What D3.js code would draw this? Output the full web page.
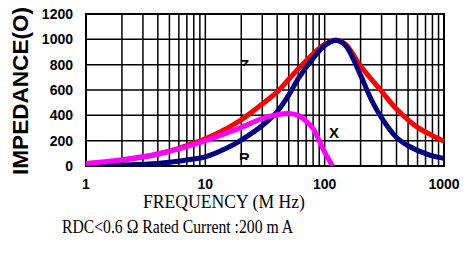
<!DOCTYPE html>
<html>
<head>
<meta charset="utf-8">
<script src="https://cdn.jsdelivr.net/npm/d3@7"></script>
<style>
  body { margin: 0; background: #fff; }
  svg { display: block; }
</style>
</head>
<body>
<div id="chart"></div>
<script>
// frequency (MHz) and impedance (ohm)
var zFreq = [1, 1.5, 2, 3, 4, 6, 8, 10, 15, 20, 30, 40, 50, 60, 80, 100, 125, 150, 200, 300, 400, 600, 800, 1000];
var zVals = [20, 30, 45, 70, 95, 140, 180, 215, 295, 365, 490, 585, 685, 765, 885, 960, 995, 960, 790, 590, 450, 305, 240, 195];

var xFreq = [1, 2, 4, 6, 8, 10, 15, 20, 30, 40, 50, 60, 80, 100, 125, 150, 200, 250, 300, 400, 500, 650, 800, 1000];
var xVals = [3, 8, 20, 38, 55, 72, 140, 205, 320, 430, 560, 690, 850, 950, 990, 950, 715, 510, 380, 225, 160, 110, 80, 60];

var rFreq = [1, 2, 4, 6, 8, 10, 15, 20, 30, 40, 50, 60, 70, 80, 90, 100, 110, 116];
var rVals = [20, 50, 95, 135, 170, 200, 260, 305, 375, 405, 415, 400, 355, 295, 200, 110, 40, 0];

var yTicks = [0, 200, 400, 600, 800, 1000, 1200];
var xTicks = [1, 10, 100, 1000];

var W = 465, H = 257;
var plotL = 86, plotR = 444, plotT = 14, plotB = 166;

var svg = d3.select("#chart").append("svg")
    .attr("width", W).attr("height", H);

var x = d3.scaleLog().domain([1, 1000]).range([plotL, plotR]);
var y = d3.scaleLinear().domain([0, 1200]).range([plotB, plotT]);

// vertical grid: every 1..9 in each decade
var vGrid = [];
[1, 10, 100].forEach(function(d) {
    for (var k = 1; k < 10; k++) vGrid.push(d * k);
});
vGrid.push(1000);

svg.append("g").selectAll("line").data(vGrid).enter().append("line")
    .attr("x1", function(d) { return x(d); }).attr("x2", function(d) { return x(d); })
    .attr("y1", plotT).attr("y2", plotB)
    .attr("stroke", "#000").attr("stroke-width", 1.5);

svg.append("g").selectAll("line").data(yTicks).enter().append("line")
    .attr("x1", plotL).attr("x2", plotR)
    .attr("y1", function(d) { return y(d); }).attr("y2", function(d) { return y(d); })
    .attr("stroke", "#000").attr("stroke-width", 1.5);

svg.append("rect")
    .attr("x", plotL).attr("y", plotT)
    .attr("width", plotR - plotL).attr("height", plotB - plotT)
    .attr("fill", "none").attr("stroke", "#000").attr("stroke-width", 2);

// tick labels
svg.append("g").selectAll("text").data(yTicks).enter().append("text")
    .attr("x", 73).attr("y", function(d) { return y(d); })
    .attr("dy", "0.36em")
    .attr("text-anchor", "end")
    .style("font-family", "'Liberation Sans', Arial, sans-serif")
    .style("font-weight", "bold").style("font-size", "14px")
    .text(function(d) { return d; });

svg.append("g").selectAll("text").data(xTicks).enter().append("text")
    .attr("x", function(d) { return x(d); }).attr("y", 189)
    .attr("text-anchor", "middle")
    .style("font-family", "'Liberation Sans', Arial, sans-serif")
    .style("font-weight", "bold").style("font-size", "14px")
    .text(function(d) { return d; });

// curves
svg.append("clipPath").attr("id", "plotClip").append("rect")
    .attr("x", plotL).attr("y", plotT).attr("width", plotR - plotL).attr("height", plotB - plotT);

var line = d3.line()
    .x(function(d) { return x(d[0]); })
    .y(function(d) { return y(d[1]); })
    .curve(d3.curveCatmullRom.alpha(0.5));

function series(freq, vals) {
    return freq.map(function(f, i) { return [f, vals[i]]; });
}

var curves = [
    { data: series(zFreq, zVals), color: "#ff0000" },
    { data: series(xFreq, xVals), color: "#000080" },
    { data: series(rFreq, rVals), color: "#ff00ff" }
];

svg.append("g").attr("clip-path", "url(#plotClip)")
    .selectAll("path").data(curves).enter().append("path")
    .attr("d", function(d) { return line(d.data); })
    .attr("fill", "none")
    .attr("stroke", function(d) { return d.color; })
    .attr("stroke-width", 5)
    .attr("stroke-linejoin", "round");

// curve labels (partly hidden in the original)
var labClip = svg.append("clipPath").attr("id", "labClip");
labClip.append("rect").attr("x", 230).attr("y", 50).attr("width", 30).attr("height", 16);
labClip.append("rect").attr("x", 230).attr("y", 145).attr("width", 30).attr("height", 15);

var labs = svg.append("g")
    .style("font-family", "'Liberation Sans', Arial, sans-serif")
    .style("font-weight", "bold").style("font-size", "15px");
labs.append("text").attr("x", 240).attr("y", 70).attr("clip-path", "url(#labClip)").text("Z");
labs.append("text").attr("x", 239).attr("y", 163).attr("clip-path", "url(#labClip)").text("R");
labs.append("text").attr("x", 329).attr("y", 138).text("X");

// axis titles
svg.append("text")
    .attr("transform", "translate(28,91) rotate(-90)")
    .attr("text-anchor", "middle")
    .attr("textLength", 168).attr("lengthAdjust", "spacingAndGlyphs")
    .style("font-family", "'Liberation Sans', Arial, sans-serif")
    .style("font-weight", "bold").style("font-size", "22px")
    .text("IMPEDANCE(O)");

svg.append("text")
    .attr("x", 143).attr("y", 208)
    .attr("textLength", 162).attr("lengthAdjust", "spacingAndGlyphs")
    .style("font-family", "'Liberation Serif', 'Times New Roman', serif")
    .style("font-size", "18px")
    .text("FREQUENCY (M Hz)");

svg.append("text")
    .attr("x", 62).attr("y", 233)
    .attr("textLength", 231).attr("lengthAdjust", "spacingAndGlyphs")
    .style("font-family", "'Liberation Serif', 'Times New Roman', serif")
    .style("font-size", "18px")
    .text("RDC<0.6 \u03A9 Rated Current :200 m A");
</script>
</body>
</html>
